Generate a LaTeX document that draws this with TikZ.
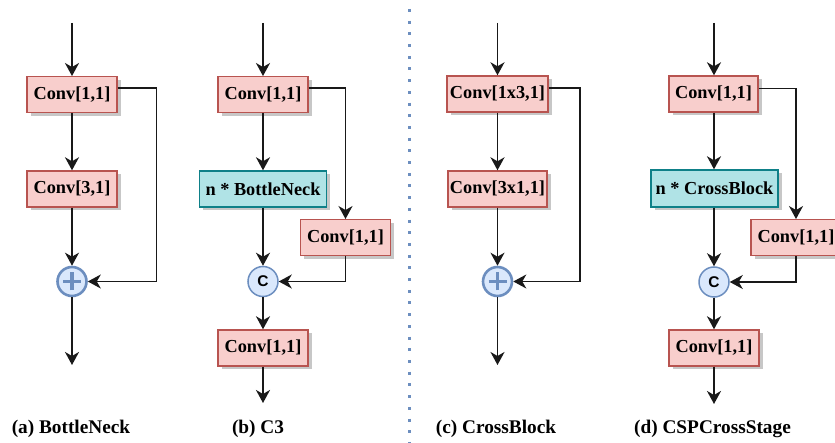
\documentclass[tikz,border=0pt]{standalone}
\usepackage{fontspec}
\setmainfont{Liberation Serif}
\newfontfamily\symfont{Liberation Sans}
\usetikzlibrary{arrows.meta,shadows,calc}

\definecolor{convfill}{HTML}{F8CECC}
\definecolor{convline}{HTML}{B85450}
\definecolor{blockfill}{HTML}{B0E3E6}
\definecolor{blockline}{HTML}{0E8088}
\definecolor{opfill}{HTML}{DAE8FC}
\definecolor{opline}{HTML}{6C8EBF}

\tikzset{
  boxshadow/.style={drop shadow={shadow xshift=3.5pt, shadow yshift=-3.5pt,
      fill=black!22, opacity=1}},
  convbox/.style={draw=convline, fill=convfill, line width=1.4pt, inner sep=0pt,
      minimum width=90pt, minimum height=35.5pt, boxshadow,
      font=\fontsize{18.3}{20}\selectfont\bfseries},
  blockbox/.style={convbox, draw=blockline, fill=blockfill},
  opnode/.style={circle, draw=opline, fill=opfill, line width=1.5pt, inner sep=0pt,
      minimum size=30pt, font=\symfont\fontsize{15.5}{15.5}\selectfont\bfseries},
  addnode/.style={opnode, line width=2.6pt, minimum size=29pt},
  plusbar/.style={draw=opline, line width=3.2pt},
  flow/.style={draw=black!90, line width=1.8pt,
      -{Stealth[length=13pt, width=14pt, inset=4pt]}},
  sideflow/.style={flow, line width=1.5pt},
  caption/.style={anchor=base, font=\fontsize{19.3}{22}\selectfont\bfseries},
  divider/.style={draw=opline, line width=3pt, dash pattern=on 3pt off 8.7pt}
}

\newcommand{\plussign}[1]{%
  \draw[plusbar] ([xshift=-9pt]#1.center) -- ([xshift=9pt]#1.center);
  \draw[plusbar] ([yshift=-9pt]#1.center) -- ([yshift=9pt]#1.center);}

\begin{document}
\begin{tikzpicture}[x=1pt, y=-1pt]
\useasboundingbox (0,0) rectangle (835,443);
\clip (0,0) rectangle (835,443);

% ---------- (a) BottleNeck ----------
\coordinate (ain) at (72,23);
\node[convbox] (a1) at (72,94.5) {Conv[1,1]};
\node[convbox, minimum height=36pt] (a2) at (72,189) {Conv[3,1]};
\node[addnode] (ap) at (72,281.5) {};
\plussign{ap}
\coordinate (aout) at (72,365);
\draw[flow] (ain) -- (a1);
\draw[flow] (a1) -- (a2);
\draw[flow] (a2) -- (ap);
\draw[flow] (ap) -- (aout);
\draw[sideflow] ([yshift=6.5pt]a1.east) -- ++(39,0) |- (ap.east);
\node[caption] (alabel) at (71,433) {(a) BottleNeck};

% ---------- (b) C3 ----------
\coordinate (bin) at (263,23);
\node[convbox] (b1) at (263,94.5) {Conv[1,1]};
\node[blockbox, minimum width=127pt, minimum height=36pt] (b2) at (263,189) {n * BottleNeck};
\node[convbox] (b3) at (345.5,237.5) {Conv[1,1]};
\node[opnode] (bc) at (263,281.5) {C};
\node[convbox, minimum height=36pt] (b4) at (263,348) {Conv[1,1]};
\coordinate (bout) at (263,403);
\draw[flow] (bin) -- (b1);
\draw[flow] (b1) -- (b2);
\draw[sideflow] ([yshift=6.5pt]b1.east) -| (b3.north);
\draw[flow] (b2) -- (bc);
\draw[sideflow] (b3.south) |- (bc.east);
\draw[flow] (bc) -- (b4);
\draw[flow] (b4) -- (bout);
\node[caption] (blabel) at (258,433) {(b) C3};

% ---------- divider ----------
\coordinate (dtop) at (409,9);
\coordinate (dbot) at (409,443);
\draw[divider] (dtop) -- (dbot);

% ---------- (c) CrossBlock ----------
\coordinate (cin) at (497.5,23);
\node[convbox, minimum width=101pt, minimum height=36pt] (c1) at (497.5,94) {Conv[1x3,1]};
\node[convbox, minimum width=99pt, minimum height=36pt] (c2) at (497.5,189) {Conv[3x1,1]};
\node[addnode] (cp) at (497.5,281.5) {};
\plussign{cp}
\coordinate (cout) at (497.5,365);
\draw[flow] (cin) -- (c1);
\draw[flow] (c1) -- (c2);
\draw[flow] (c2) -- (cp);
\draw[flow] (cp) -- (cout);
\draw[sideflow] ([yshift=6pt]c1.east) -- ++(31.5,0) |- (cp.east);
\node[caption] (clabel) at (496,433) {(c) CrossBlock};

% ---------- (d) CSPCrossStage ----------
\coordinate (din) at (714,23);
\node[convbox, minimum width=89pt, minimum height=36pt] (d1) at (713.5,94) {Conv[1,1]};
\node[blockbox, minimum width=127pt, minimum height=37pt] (d2) at (714.5,188.5) {n * CrossBlock};
\node[convbox] (d3) at (796,237.5) {Conv[1,1]};
\node[opnode] (dc) at (714,282) {C};
\node[convbox, minimum height=36pt] (d4) at (714,348) {Conv[1,1]};
\coordinate (dout) at (714,404);
\draw[flow] (din) -- (din |- d1.north);
\draw[flow] (d1.south -| din) -- (din |- d2.north);
\draw[sideflow] ([yshift=5.5pt]d1.east) -| (d3.north);
\draw[flow] (d2.south -| din) -- (dc);
\draw[sideflow] (d3.south) |- (dc.east);
\draw[flow] (dc) -- (d4);
\draw[flow] (d4) -- (dout);
\node[caption] (dlabel) at (712.5,433) {(d) CSPCrossStage};
\end{tikzpicture}
\end{document}
